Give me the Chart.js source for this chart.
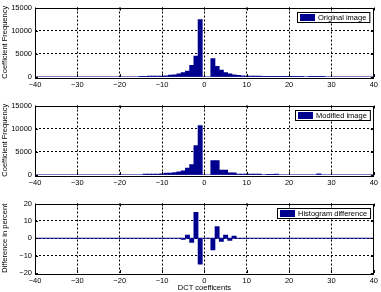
<!DOCTYPE html>
<html lang="en">
<head>
  <meta charset="UTF-8" />
  <title>DCT histograms</title>
  <script src="https://cdn.jsdelivr.net/npm/chart.js"></script>
  <style>
    html, body { margin: 0; padding: 0; background: #fff; }
    #wrap { position: relative; width: 381px; height: 292px; }
    canvas { position: absolute; left: 0; }
  </style>
</head>
<body>
<div id="wrap">
  <canvas id="origChart" width="381" height="92" style="top:0px"></canvas>
  <canvas id="modChart" width="381" height="92" style="top:98px"></canvas>
  <canvas id="diffChart" width="381" height="96" style="top:196px"></canvas>
</div>

<script>
// x range and tick labels shared by all panels
const xRange = [-40, 40];
const xTicks = [-40, -30, -20, -10, 0, 10, 20, 30, 40];
const freqTicks = [0, 5000, 10000, 15000];
const diffTicks = [-20, -10, 0, 10, 20];

// original image histogram
const origCoef = [-15, -14, -13, -12, -11, -10, -9, -8, -7, -6, -5, -4, -3, -2, -1,
  2, 3, 4, 5, 6, 7, 8, 9, 10, 11, 12, 13, 14, 15, 16, 17, 18, 19, 20, 21, 22, 23, 25, 26, 27, 28];
const origFreq = [150, 170, 180, 190, 200, 220, 250, 400, 470, 670, 940, 1300, 2500, 4500, 12400,
  3950, 2290, 1480, 940, 700, 450, 350, 250, 220, 200, 200, 180, 170, 170, 160, 160, 150, 150, 150, 150, 140, 140, 140, 140, 140, 130];

// modified image histogram
const modCoef = [-14, -13, -12, -11, -10, -9, -8, -7, -6, -5, -4, -3, -2, -1,
  2, 3, 4, 5, 6, 7, 8, 9, 10, 11, 12, 13, 15, 16, 17, 27];
const modFreq = [180, 200, 200, 220, 250, 400, 420, 500, 680, 880, 1500, 2250, 6340, 10650,
  3100, 3100, 1050, 1050, 480, 480, 220, 220, 220, 220, 220, 180, 160, 160, 180, 250];

// histogram difference in percent
const diffCoef = [-5, -4, -3, -2, -1, 2, 3, 4, 5, 6, 7];
const diffPct = [-0.7, 1.8, -2.4, 14.9, -14.9, -6.7, 6.7, -1.8, 1.8, -1.3, 1.3];

const barColor = '#00008f';
const fontFamily = "'Liberation Sans', Arial, Helvetica, sans-serif";
const fontSize = 7.5;

function minusSign(v) {
  return String(v).replace('-', '\u2212');
}

// box around the plot, inward ticks and legend, like the matlab figure
const boxPlugin = {
  id: 'box',
  afterDraw(chart) {
    const ctx = chart.ctx;
    const a = chart.chartArea;
    const xs = chart.scales.x, ys = chart.scales.y;
    ctx.save();
    ctx.strokeStyle = '#000';
    ctx.lineWidth = 1;
    ctx.strokeRect(Math.round(a.left) + 0.5, Math.round(a.top) + 0.5,
      Math.round(a.right - a.left) - 1, Math.round(a.bottom - a.top));
    ctx.beginPath();
    xs.ticks.forEach(t => {
      const px = Math.round(xs.getPixelForValue(t.value)) + 0.5;
      ctx.moveTo(px, a.bottom); ctx.lineTo(px, a.bottom - 3);
      ctx.moveTo(px, a.top); ctx.lineTo(px, a.top + 3);
    });
    ys.ticks.forEach(t => {
      const py = Math.round(ys.getPixelForValue(t.value)) + 0.5;
      ctx.moveTo(a.left, py); ctx.lineTo(a.left + 3, py);
      ctx.moveTo(a.right, py); ctx.lineTo(a.right - 3, py);
    });
    ctx.stroke();

    // legend
    const label = chart.data.datasets[0].label;
    ctx.font = fontSize + 'px ' + fontFamily;
    const tw = ctx.measureText(label).width;
    const w = 3 + 15 + 3 + tw + 3;
    const h = 10;
    const x0 = Math.round(a.right - 4 - w);
    const y0 = Math.round(a.top + 4);
    ctx.fillStyle = '#fff';
    ctx.fillRect(x0, y0, w, h);
    ctx.strokeRect(x0 + 0.5, y0 + 0.5, w, h);
    ctx.fillStyle = barColor;
    ctx.fillRect(x0 + 3, y0 + 2, 15, 7);
    ctx.fillStyle = '#000';
    ctx.textBaseline = 'middle';
    ctx.fillText(label, x0 + 21, y0 + h / 2 + 1);
    ctx.restore();
  }
};

function makeChart(id, coef, vals, label, yTicks, opts) {
  const ctx = document.getElementById(id).getContext('2d');
  return new Chart(ctx, {
    type: 'bar',
    data: {
      datasets: [{
        type: 'bar',
        label: label,
        data: coef.map((c, i) => ({ x: c, y: vals[i] })),
        backgroundColor: barColor,
        borderColor: barColor,
        borderWidth: 0,
        barPercentage: 1,
        categoryPercentage: 1
      }, {
        type: 'line',
        label: 'baseline',
        data: xRange.map(x => ({ x: x, y: 0 })),
        borderColor: barColor,
        borderWidth: 1.2,
        pointRadius: 0
      }]
    },
    options: {
      responsive: false,
      animation: false,
      layout: { padding: { left: 0, right: 5, top: opts.top, bottom: 0 } },
      plugins: { legend: { display: false }, tooltip: { enabled: false } },
      scales: {
        x: {
          type: 'linear',
          offset: false,
          min: xRange[0], max: xRange[1],
          afterBuildTicks: s => { s.ticks = xTicks.map(v => ({ value: v })); },
          afterFit: s => { s.height = opts.xHeight; },
          grid: {
            offset: false,
            drawTicks: false,
            color: c => (c.tick && (c.tick.value === xRange[0] || c.tick.value === xRange[1])) ? 'rgba(0,0,0,0)' : '#000',
            lineWidth: 1
          },
          border: { display: false, dash: [2, 2] },
          ticks: {
            color: '#000', padding: 3, maxRotation: 0,
            font: { family: fontFamily, size: fontSize },
            callback: v => minusSign(v)
          },
          title: {
            display: !!opts.xTitle, text: opts.xTitle || '', color: '#000',
            font: { family: fontFamily, size: fontSize }, padding: 0
          }
        },
        y: {
          min: yTicks[0], max: yTicks[yTicks.length - 1],
          afterBuildTicks: s => { s.ticks = yTicks.map(v => ({ value: v })); },
          afterFit: s => { s.width = 35; },
          grid: {
            drawTicks: false,
            color: c => (c.tick && (c.tick.value === yTicks[0] || c.tick.value === yTicks[yTicks.length - 1])) ? 'rgba(0,0,0,0)' : '#000',
            lineWidth: 1
          },
          border: { display: false, dash: [2, 2] },
          ticks: {
            color: '#000', padding: 3,
            font: { family: fontFamily, size: fontSize },
            callback: v => minusSign(v)
          },
          title: {
            display: true, text: opts.yTitle, color: '#000',
            font: { family: fontFamily, size: fontSize }, padding: 0
          }
        }
      }
    },
    plugins: [boxPlugin]
  });
}

makeChart('origChart', origCoef, origFreq, 'Original image', freqTicks,
  { top: 3, xHeight: 15, yTitle: 'Coefficient Frequency' });
makeChart('modChart', modCoef, modFreq, 'Modified image', freqTicks,
  { top: 4, xHeight: 15, yTitle: 'Coefficient Frequency' });
makeChart('diffChart', diffCoef, diffPct, 'Histogram difference', diffTicks,
  { top: 4, xHeight: 19, yTitle: 'Difference in percent', xTitle: 'DCT coefficents' });
</script>
</body>
</html>
